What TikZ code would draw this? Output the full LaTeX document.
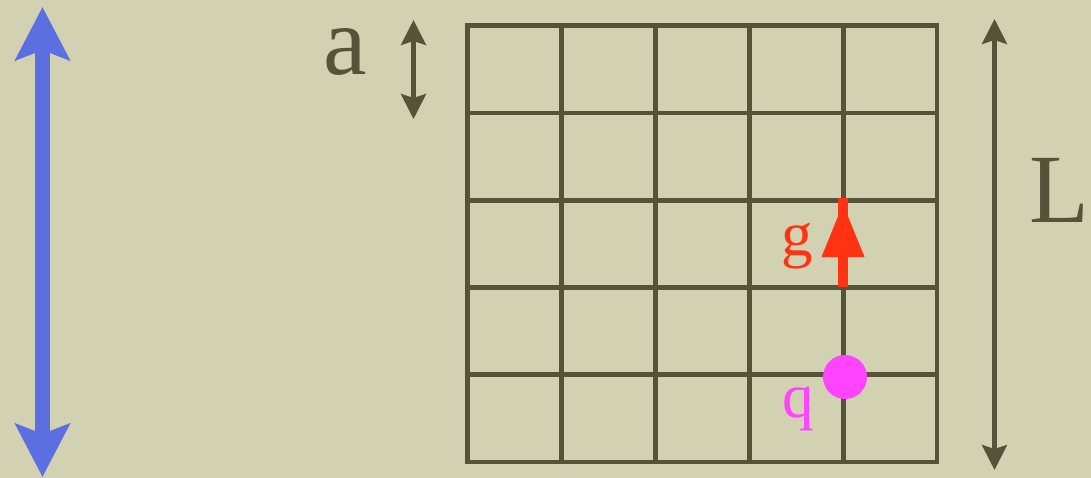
\documentclass[tikz,border=0pt]{standalone}
\usepackage{fontspec}
\setmainfont{Liberation Serif}
\usetikzlibrary{arrows.meta}
\definecolor{paper}{HTML}{D2D2B3}
\definecolor{olive}{HTML}{56533A}
\definecolor{lenblue}{HTML}{5B6FE0}
\definecolor{gred}{HTML}{FF3311}
\definecolor{qpink}{HTML}{FF44FF}
\tikzset{
  gridline/.style={draw=olive, line width=4.8pt, line cap=rect},
  dimarrow/.style={draw=olive, line width=4.2pt, {Stealth[length=25pt,width=25pt,inset=4pt]}-{Stealth[length=25pt,width=25pt,inset=4pt]}},
  bigarrow/.style={draw=lenblue, line width=15pt, {Stealth[length=53pt,width=54pt,inset=10pt]}-{Stealth[length=53pt,width=54pt,inset=10pt]}},
  biglabel/.style={text=olive, font=\fontsize{98}{98}\selectfont, anchor=base, inner sep=0pt},
  smalllabel/.style={font=\fontsize{63}{63}\selectfont, anchor=base, inner sep=0pt}
}
\begin{document}
\begin{tikzpicture}[x=1pt, y=-1pt]
  \useasboundingbox[fill=paper] (0,0) rectangle (1091,478);
  % long blue arrow
  \coordinate (bt) at (42.5,7);
  \coordinate (bb) at (42.5,477);
  \draw[bigarrow] (bt) -- (bb);
  % lattice
  \foreach \i in {0,...,5} {
    \draw[gridline] (467.5+93.9*\i,25.8) -- (467.5+93.9*\i,462);
    \draw[gridline] (467.5,25.8+87.24*\i) -- (937,25.8+87.24*\i);
  }
  % spacing a
  \node[biglabel] (alab) at (345,75) {a};
  \coordinate (at) at (413.5,20);
  \coordinate (ab) at (413.5,119);
  \draw[dimarrow] (at) -- (ab);
  % size L
  \node[biglabel] (llab) at (1059,223) {L};
  \coordinate (lt) at (994.5,19);
  \coordinate (lb) at (994.5,470);
  \draw[dimarrow] (lt) -- (lb);
  % link variable g
  \node[smalllabel, text=gred] (glab) at (797,255) {g};
  \coordinate (gs) at (843,287);
  \coordinate (ge) at (843,198);
  \draw[gred, line width=10pt] (gs) -- (ge);
  \fill[gred] (821.5,257) -- (843,204) -- (864.5,257) -- cycle;
  % charge q
  \node[circle, fill=qpink, minimum size=44pt, inner sep=0pt] (qdot) at (845,377) {};
  \node[smalllabel, text=qpink] (qlab) at (798,417) {q};
\end{tikzpicture}
\end{document}
